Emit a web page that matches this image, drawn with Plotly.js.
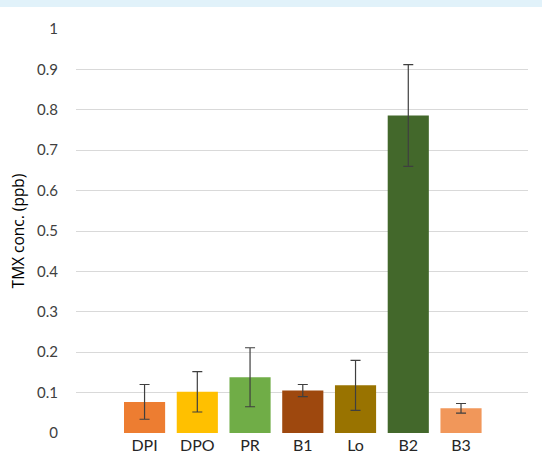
<!DOCTYPE html>
<html>
<head>
<meta charset="utf-8">
<script src="https://cdn.plot.ly/plotly-3.0.1.min.js"></script>
<style>
  html, body { margin: 0; padding: 0; background: #ffffff; }
  #band { position: absolute; left: 0; top: 0; width: 542px; height: 7px; background: #e1f2fa; }
  #chart { position: absolute; left: 0; top: 0; width: 542px; height: 459px; }
</style>
</head>
<body>
<div id="chart"></div>
<div id="band"></div>
<script>
// Sampling sites and mean TMX concentration (ppb) with error bar half-widths
const sites = ["DPI", "DPO", "PR", "B1", "Lo", "B2", "B3"];
const tickLabels = ["DPI", "DPO", "PR", "B1", "Lo", "B2", "B3"];
const conc = [0.077, 0.102, 0.138, 0.105, 0.118, 0.786, 0.061];
const concErr = [0.043, 0.050, 0.073, 0.015, 0.062, 0.126, 0.012];
const barColors = ["#ed7d31", "#ffc000", "#70ad47", "#9e480e", "#997300", "#43682b", "#f1975a"];
const yTicks = [0, 0.1, 0.2, 0.3, 0.4, 0.5, 0.6, 0.7, 0.8, 0.9, 1];
const yTickText = ["0", "0.1", "0.2", "0.3", "0.4", "0.5", "0.6", "0.7", "0.8", "0.9", "1"];

const trace = {
  type: "bar",
  x: sites,
  y: conc,
  marker: { color: barColors, line: { width: 0 } },
  error_y: {
    type: "data",
    array: concErr,
    visible: true,
    color: "#3f3f3f",
    thickness: 1.2,
    width: 5
  },
  hoverinfo: "x+y"
};

const layout = {
  width: 542,
  height: 459,
  margin: { l: 76, r: 14, t: 29, b: 26 },
  paper_bgcolor: "#ffffff",
  plot_bgcolor: "#ffffff",
  showlegend: false,
  bargap: 0.22,
  font: { family: "Lato, 'Open Sans', sans-serif", color: "#404040" },
  xaxis: {
    type: "category",
    range: [-1.3, 7.27],
    tickvals: sites,
    ticktext: tickLabels,
    showgrid: false,
    zeroline: false,
    showline: false,
    ticks: "",
    tickfont: { size: 16, color: "#262626" },
    ticklabelstandoff: 1
  },
  yaxis: {
    range: [0, 1],
    tickvals: yTicks,
    ticktext: yTickText,
    showgrid: true,
    gridcolor: "#d9d9d9",
    gridwidth: 1,
    zeroline: false,
    showline: false,
    ticks: "",
    tickfont: { size: 15, color: "#404040" },
    ticklabelstandoff: 17,
    title: {
      text: "TMX conc. (ppb)",
      font: { family: "'Open Sans', sans-serif", size: 15.5, color: "#000000" },
      standoff: 8
    }
  }
};

Plotly.newPlot("chart", [trace], layout, { displayModeBar: false, staticPlot: true });
</script>
</body>
</html>
